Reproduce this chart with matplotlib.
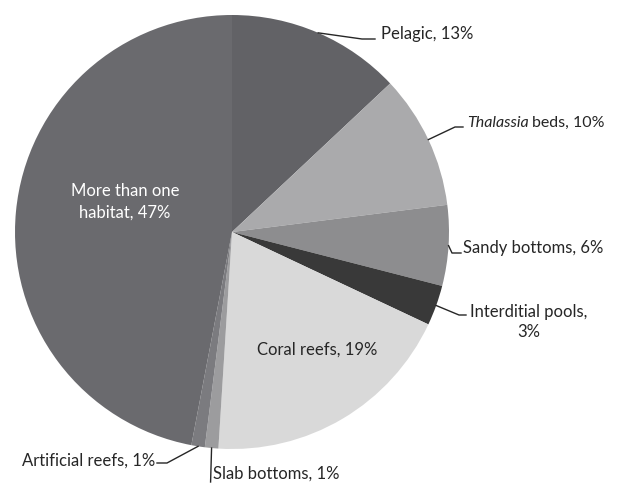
import numpy as np
from matplotlib import pyplot as plt

# Habitat shares, clockwise from 12 o'clock.
habitats = ['Pelagic', 'Thalassia beds', 'Sandy bottoms', 'Interdiltial pools',
            'Coral reefs', 'Slab bottoms', 'Artificial reefs', 'More than one habitat']
shares = [13, 10, 6, 3, 19, 1, 1, 47]
colors = ['#626266', '#aaaaac', '#8d8d8f', '#393939',
          '#d9d9d9', '#9c9c9e', '#7b7b7f', '#6a6a6e']

W, H = 617, 484
cx, cy, r = 232, 232, 217

plt.rcParams['font.family'] = ['Lato', 'DejaVu Sans']
fig = plt.figure(figsize=(W / 100, H / 100), dpi=100)
ax = fig.add_axes([0, 0, 1, 1])

wedges, _ = ax.pie(shares, colors=colors, startangle=90, counterclock=False,
                   center=(cx, H - cy), radius=r, frame=True,
                   wedgeprops=dict(linewidth=0))
ax.set_xlim(0, W)
ax.set_ylim(0, H)
ax.axis('off')


def edge(i):
    # point on the rim at the middle of wedge i
    w = wedges[i]
    a = np.radians((w.theta1 + w.theta2) / 2)
    return cx + r * np.cos(a), H - cy + r * np.sin(a)


def Y(y):
    return H - y


txt = dict(fontsize=12, color='#262626')
line = dict(color='#262626', lw=1)

# Pelagic
x0, y0 = edge(0)
ax.plot([x0, 362, 375], [y0, Y(39), Y(39)], **line)
ax.text(381, Y(34), 'Pelagic, 13%', va='center', ha='left', **txt)

# Thalassia beds: italic genus name, then the rest
x0, y0 = edge(1)
ax.plot([x0, 455, 463], [y0, Y(127), Y(127)], **line)
t = ax.text(467, Y(123), 'Thalassia', va='center', ha='left', style='italic',
            fontsize=11.5, color='#262626')
fig.canvas.draw()
bb = t.get_window_extent()
ax.text(bb.x1 + 3, Y(123), 'beds, 10%', va='center', ha='left',
        fontsize=11.5, color='#262626')

# Sandy bottoms
x0, y0 = edge(2)
ax.plot([x0, 452, 461], [y0, Y(253), Y(253)], **line)
ax.text(463, Y(248), 'Sandy bottoms, 6%', va='center', ha='left', **txt)

# Interdiltial pools
x0, y0 = edge(3)
ax.plot([x0, 459, 466], [y0, Y(315), Y(315)], **line)
ax.text(529, Y(322), 'Interditial pools,\n3%', va='center', ha='center',
        linespacing=1.25, **txt)

# Coral reefs (inside)
ax.text(317, Y(350), 'Coral reefs, 19%', va='center', ha='center', **txt)

# Slab bottoms
x0, y0 = edge(5)
ax.plot([x0, x0 - 1], [y0, Y(482)], **line)
ax.text(213, Y(474), 'Slab bottoms, 1%', va='center', ha='left', **txt)

# Artificial reefs
x0, y0 = edge(6)
ax.plot([x0, 167, 157], [y0, Y(463), Y(463)], **line)
ax.text(155, Y(461), 'Artificial reefs, 1%', va='center', ha='right', **txt)

# More than one habitat (inside)
ax.text(125, Y(202), 'More than one\nhabitat, 47%', va='center', ha='center',
        color='white', fontsize=12, linespacing=1.45)

plt.savefig('out.png', dpi=100)
